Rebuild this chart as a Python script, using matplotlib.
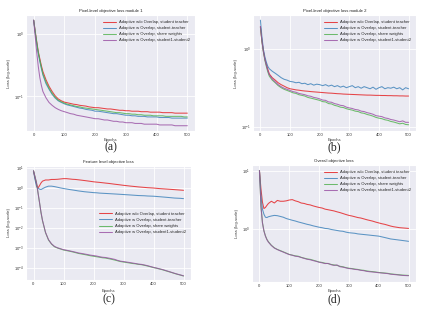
import numpy as np
import matplotlib
matplotlib.use("Agg")
import matplotlib.pyplot as plt
import seaborn as sns

sns.set_style("darkgrid")
plt.rcParams['font.family'] = ['Liberation Sans', 'DejaVu Sans']

epochs = [0, 5, 10, 15, 20, 25] + list(range(30, 501, 10))

labels = ["Adaptive w/o Overlap, student teacher",
          "Adaptive w Overlap, student-teacher",
          "Adaptive w Overlap, share weights",
          "Adaptive w Overlap, student1-student2"]
colors = ["#e41a1c", "#377eb8", "#4daf4a", "#984ea3"]

# panel (a)
a_red = [1.65, 1.10, 0.75, 0.52, 0.40, 0.31,
         0.25, 0.185, 0.145, 0.12, 0.102, 0.091, 0.085, 0.081,
         0.079, 0.077, 0.075, 0.074, 0.072, 0.071, 0.070, 0.068, 0.067, 0.066,
         0.066, 0.065, 0.064, 0.063, 0.063, 0.062, 0.061, 0.060, 0.060, 0.059,
         0.059, 0.058, 0.058, 0.058, 0.057, 0.057, 0.057, 0.056, 0.056, 0.056,
         0.056, 0.055, 0.055, 0.055, 0.055, 0.054, 0.054, 0.054, 0.054, 0.054]
a_blue = [1.65, 1.05, 0.70, 0.48, 0.36, 0.28,
          0.22, 0.16, 0.13, 0.108, 0.094, 0.085, 0.080, 0.076,
          0.073, 0.071, 0.069, 0.067, 0.065, 0.064, 0.062, 0.061, 0.060, 0.058,
          0.058, 0.057, 0.056, 0.055, 0.054, 0.053, 0.053, 0.052, 0.051, 0.050,
          0.050, 0.049, 0.049, 0.048, 0.048, 0.048, 0.047, 0.047, 0.047, 0.047,
          0.046, 0.046, 0.046, 0.046, 0.045, 0.045, 0.045, 0.045, 0.045, 0.045]
a_green = [1.65, 1.07, 0.72, 0.50, 0.38, 0.29,
           0.23, 0.17, 0.135, 0.112, 0.097, 0.087, 0.082, 0.078,
           0.075, 0.073, 0.071, 0.069, 0.068, 0.066, 0.065, 0.064, 0.063, 0.062,
           0.061, 0.060, 0.059, 0.058, 0.057, 0.056, 0.055, 0.055, 0.054, 0.053,
           0.053, 0.052, 0.052, 0.051, 0.051, 0.050, 0.050, 0.050, 0.049, 0.049,
           0.049, 0.049, 0.048, 0.048, 0.048, 0.048, 0.048, 0.048, 0.047, 0.047]
a_purple = [1.65, 0.90, 0.50, 0.30, 0.20, 0.15,
            0.12, 0.095, 0.080, 0.072, 0.066, 0.062, 0.059, 0.057,
            0.055, 0.053, 0.052, 0.050, 0.049, 0.048, 0.047, 0.046, 0.045, 0.044,
            0.044, 0.043, 0.042, 0.042, 0.041, 0.040, 0.040, 0.039, 0.039, 0.038,
            0.038, 0.038, 0.037, 0.037, 0.037, 0.036, 0.036, 0.036, 0.036, 0.036,
            0.035, 0.035, 0.035, 0.035, 0.035, 0.034, 0.034, 0.034, 0.034, 0.034]

# panel (b)
b_red = [1.95, 1.30, 0.95, 0.75, 0.64, 0.55,
         0.48, 0.43, 0.40, 0.37, 0.35, 0.335, 0.32, 0.31,
         0.305, 0.30, 0.297, 0.293, 0.29, 0.288, 0.285, 0.283, 0.281, 0.279,
         0.277, 0.275, 0.273, 0.272, 0.27, 0.268, 0.267, 0.265, 0.264, 0.263,
         0.262, 0.261, 0.26, 0.259, 0.258, 0.257, 0.257, 0.256, 0.255, 0.255,
         0.254, 0.254, 0.253, 0.253, 0.252, 0.252, 0.251, 0.251, 0.25, 0.25]
b_blue = [2.35, 1.45, 1.00, 0.80, 0.68, 0.60,
          0.56, 0.52, 0.49, 0.46, 0.43, 0.41, 0.40, 0.385,
          0.38, 0.37, 0.375, 0.36, 0.365, 0.35, 0.36, 0.345, 0.355, 0.35,
          0.34, 0.35, 0.335, 0.345, 0.33, 0.34, 0.325, 0.335, 0.32, 0.33,
          0.34, 0.32, 0.33, 0.315, 0.33, 0.32, 0.31, 0.325, 0.305, 0.32,
          0.33, 0.31, 0.32, 0.315, 0.325, 0.31, 0.32, 0.30, 0.32, 0.31]
b_green = [1.90, 1.25, 0.92, 0.72, 0.60, 0.51,
           0.45, 0.40, 0.37, 0.34, 0.32, 0.305, 0.295, 0.285,
           0.275, 0.27, 0.26, 0.255, 0.25, 0.24, 0.235, 0.23, 0.225, 0.22,
           0.212, 0.21, 0.20, 0.198, 0.19, 0.186, 0.18, 0.178, 0.172, 0.168,
           0.165, 0.16, 0.158, 0.152, 0.15, 0.145, 0.142, 0.138, 0.133, 0.13,
           0.128, 0.124, 0.122, 0.118, 0.116, 0.113, 0.11, 0.112, 0.108, 0.107]
b_purple = [1.95, 1.28, 0.94, 0.74, 0.62, 0.53,
            0.47, 0.415, 0.38, 0.35, 0.33, 0.315, 0.305, 0.295,
            0.285, 0.28, 0.27, 0.265, 0.26, 0.252, 0.248, 0.24, 0.236, 0.23,
            0.222, 0.22, 0.21, 0.208, 0.2, 0.196, 0.19, 0.188, 0.18, 0.176,
            0.173, 0.168, 0.166, 0.16, 0.158, 0.153, 0.15, 0.146, 0.14, 0.138,
            0.136, 0.131, 0.129, 0.125, 0.123, 0.12, 0.117, 0.12, 0.115, 0.115]

# panel (c)
c_red = [6.8, 3.0, 1.45, 0.95, 1.25, 1.7,
         2.1, 2.4, 2.4, 2.55, 2.55, 2.6, 2.7, 2.8,
         2.8, 2.7, 2.6, 2.55, 2.45, 2.35, 2.25, 2.15, 2.05, 1.95,
         1.88, 1.82, 1.75, 1.68, 1.62, 1.55, 1.48, 1.42, 1.36, 1.30,
         1.25, 1.20, 1.16, 1.12, 1.08, 1.05, 1.02, 0.99, 0.97, 0.95,
         0.92, 0.89, 0.87, 0.85, 0.83, 0.81, 0.79, 0.77, 0.75, 0.73]
c_blue = [6.8, 2.5, 1.15, 0.93, 0.84, 0.80,
          0.88, 1.05, 1.18, 1.18, 1.12, 1.04, 0.96, 0.90,
          0.85, 0.80, 0.76, 0.72, 0.68, 0.65, 0.62, 0.60, 0.58, 0.56,
          0.55, 0.53, 0.52, 0.51, 0.50, 0.49, 0.48, 0.47, 0.46, 0.45,
          0.44, 0.43, 0.42, 0.41, 0.40, 0.395, 0.39, 0.38, 0.375, 0.37,
          0.36, 0.35, 0.34, 0.33, 0.32, 0.31, 0.30, 0.295, 0.29, 0.28]
c_green = [6.8, 3.5, 1.75, 0.55, 0.18, 0.056,
           0.022, 0.0056, 0.0024, 0.0015, 0.0011, 0.00095, 0.00085, 0.00076,
           0.00071, 0.00066, 0.00061, 0.00056, 0.00051, 0.00048, 0.00045, 0.00042, 0.00039, 0.00037,
           0.00035, 0.00033, 0.00031, 0.0003, 0.00028, 0.00026, 0.00024, 0.00022, 0.0002, 0.00019,
           0.00018, 0.00017, 0.00016, 0.000155, 0.000145, 0.00014, 0.00013, 0.00012, 0.00011, 0.0001,
           0.000093, 0.000085, 0.000078, 0.00007, 0.000063, 0.000057, 0.000051, 0.000046, 0.000042, 0.000038]
c_purple = [6.8, 3.5, 1.75, 0.56, 0.185, 0.058,
            0.023, 0.0058, 0.0025, 0.00155, 0.00115, 0.00098, 0.00088, 0.00079,
            0.00074, 0.00069, 0.00064, 0.00059, 0.00054, 0.00051, 0.00048, 0.00045, 0.00042, 0.0004,
            0.00038, 0.00035, 0.00033, 0.00032, 0.0003, 0.00028, 0.00026, 0.00023, 0.00021, 0.0002,
            0.00019, 0.00018, 0.00017, 0.00016, 0.00015, 0.000145, 0.000135, 0.000125, 0.000113, 0.000103,
            0.000095, 0.000087, 0.00008, 0.000072, 0.000065, 0.000058, 0.000052, 0.000047, 0.000043, 0.000039]

# panel (d)
d_red = [10.0, 4.9, 2.9, 2.25, 2.35, 2.55,
         2.75, 3.0, 2.8, 3.1, 3.0, 3.0, 3.05, 3.15,
         3.2, 3.05, 2.95, 2.8, 2.75, 2.65, 2.6, 2.5, 2.42, 2.35,
         2.3, 2.2, 2.15, 2.1, 2.05, 1.98, 1.92, 1.85, 1.78, 1.72,
         1.68, 1.63, 1.58, 1.55, 1.5, 1.45, 1.41, 1.37, 1.32, 1.28,
         1.24, 1.21, 1.17, 1.13, 1.1, 1.08, 1.06, 1.05, 1.04, 1.03]
d_blue = [10.0, 3.7, 2.2, 1.8, 1.6, 1.58,
          1.63, 1.68, 1.72, 1.70, 1.65, 1.6, 1.52, 1.47,
          1.42, 1.38, 1.33, 1.29, 1.25, 1.21, 1.18, 1.14, 1.11, 1.08,
          1.06, 1.03, 1.02, 0.99, 0.97, 0.95, 0.93, 0.92, 0.89, 0.87,
          0.86, 0.85, 0.83, 0.82, 0.81, 0.8, 0.79, 0.78, 0.77, 0.76,
          0.74, 0.72, 0.7, 0.68, 0.67, 0.66, 0.65, 0.64, 0.63, 0.62]
d_green = [10.0, 2.5, 1.3, 0.94, 0.77, 0.67,
           0.61, 0.53, 0.48, 0.45, 0.43, 0.41, 0.39, 0.37,
           0.36, 0.35, 0.345, 0.33, 0.32, 0.31, 0.305, 0.295, 0.285, 0.275,
           0.27, 0.262, 0.258, 0.25, 0.245, 0.24, 0.232, 0.228, 0.22, 0.215,
           0.212, 0.208, 0.205, 0.2, 0.198, 0.193, 0.19, 0.188, 0.185, 0.182,
           0.18, 0.178, 0.176, 0.172, 0.17, 0.168, 0.166, 0.164, 0.163, 0.162]
d_purple = [10.0, 2.45, 1.28, 0.93, 0.76, 0.66,
            0.6, 0.525, 0.475, 0.448, 0.425, 0.405, 0.385, 0.368,
            0.358, 0.345, 0.34, 0.328, 0.316, 0.306, 0.3, 0.29, 0.282, 0.272,
            0.266, 0.258, 0.26, 0.247, 0.24, 0.245, 0.228, 0.224, 0.218, 0.212,
            0.21, 0.205, 0.203, 0.198, 0.195, 0.19, 0.187, 0.185, 0.183, 0.18,
            0.178, 0.176, 0.174, 0.17, 0.168, 0.166, 0.164, 0.162, 0.161, 0.16]

W, H = 428, 313
fig = plt.figure(figsize=(W / 100, H / 100), dpi=100)


def px_axes(left, top, right, bottom):
    return fig.add_axes([left / W, 1 - bottom / H, (right - left) / W, (bottom - top) / H])


panels = [
    dict(box=(26, 15, 195, 131), title="Pixel-level objective loss module 1",
         series=[a_red, a_blue, a_green, a_purple], ylim=(0.028, 2.0),
         loc="upper right", tag="(a)", tag_y=147, xl_y=140),
    dict(box=(253, 15, 416, 131), title="Pixel-level objective loss module 2",
         series=[b_red, b_blue, b_green, b_purple], ylim=(0.089, 2.74),
         loc="upper right", tag="(b)", tag_y=147, xl_y=140),
    dict(box=(26, 166, 191, 280), title="Feature level objective loss",
         series=[c_red, c_blue, c_green, c_purple], ylim=(2.4e-5, 12),
         loc="center right", tag="(c)", tag_y=299, xl_y=291),
    dict(box=(252, 165, 416, 282), title="Overall objective loss",
         series=[d_red, d_blue, d_green, d_purple], ylim=(0.125, 12.5),
         loc="upper right", tag="(d)", tag_y=299, xl_y=291),
]

for p in panels:
    ax = px_axes(*p["box"])
    for vals, col, lab in zip(p["series"], colors, labels):
        ax.plot(epochs, vals, color=col, lw=0.75, alpha=0.8, label=lab)
    ax.set_yscale("log")
    ax.set_ylim(*p["ylim"])
    ax.set_xlim(-25, 525)
    ax.set_xticks([0, 100, 200, 300, 400, 500])
    ax.grid(True, which="major", color="white", lw=0.6)
    ax.tick_params(labelsize=3.0, pad=1.5, length=0, colors="#333333")
    ax.minorticks_off()
    ax.set_title(p["title"], fontsize=3.1, pad=2, color="#222222")
    ax.set_ylabel("Loss (log-scale)", fontsize=3.0, labelpad=2, color="#333333")
    ax.legend(loc=p["loc"], fontsize=3.0, frameon=False, handlelength=3.0,
              borderaxespad=0.8, labelspacing=0.5)
    cx = (p["box"][0] + p["box"][2]) / 2
    fig.text(cx / W, 1 - p["xl_y"] / H, "Epochs", fontsize=3.0, ha="center",
             va="center", color="#333333")
    fig.text(cx / W, 1 - p["tag_y"] / H, p["tag"], fontsize=8.5, ha="center",
             va="center", family=["Liberation Serif", "DejaVu Serif"])

fig.savefig("out.png", dpi=100)
